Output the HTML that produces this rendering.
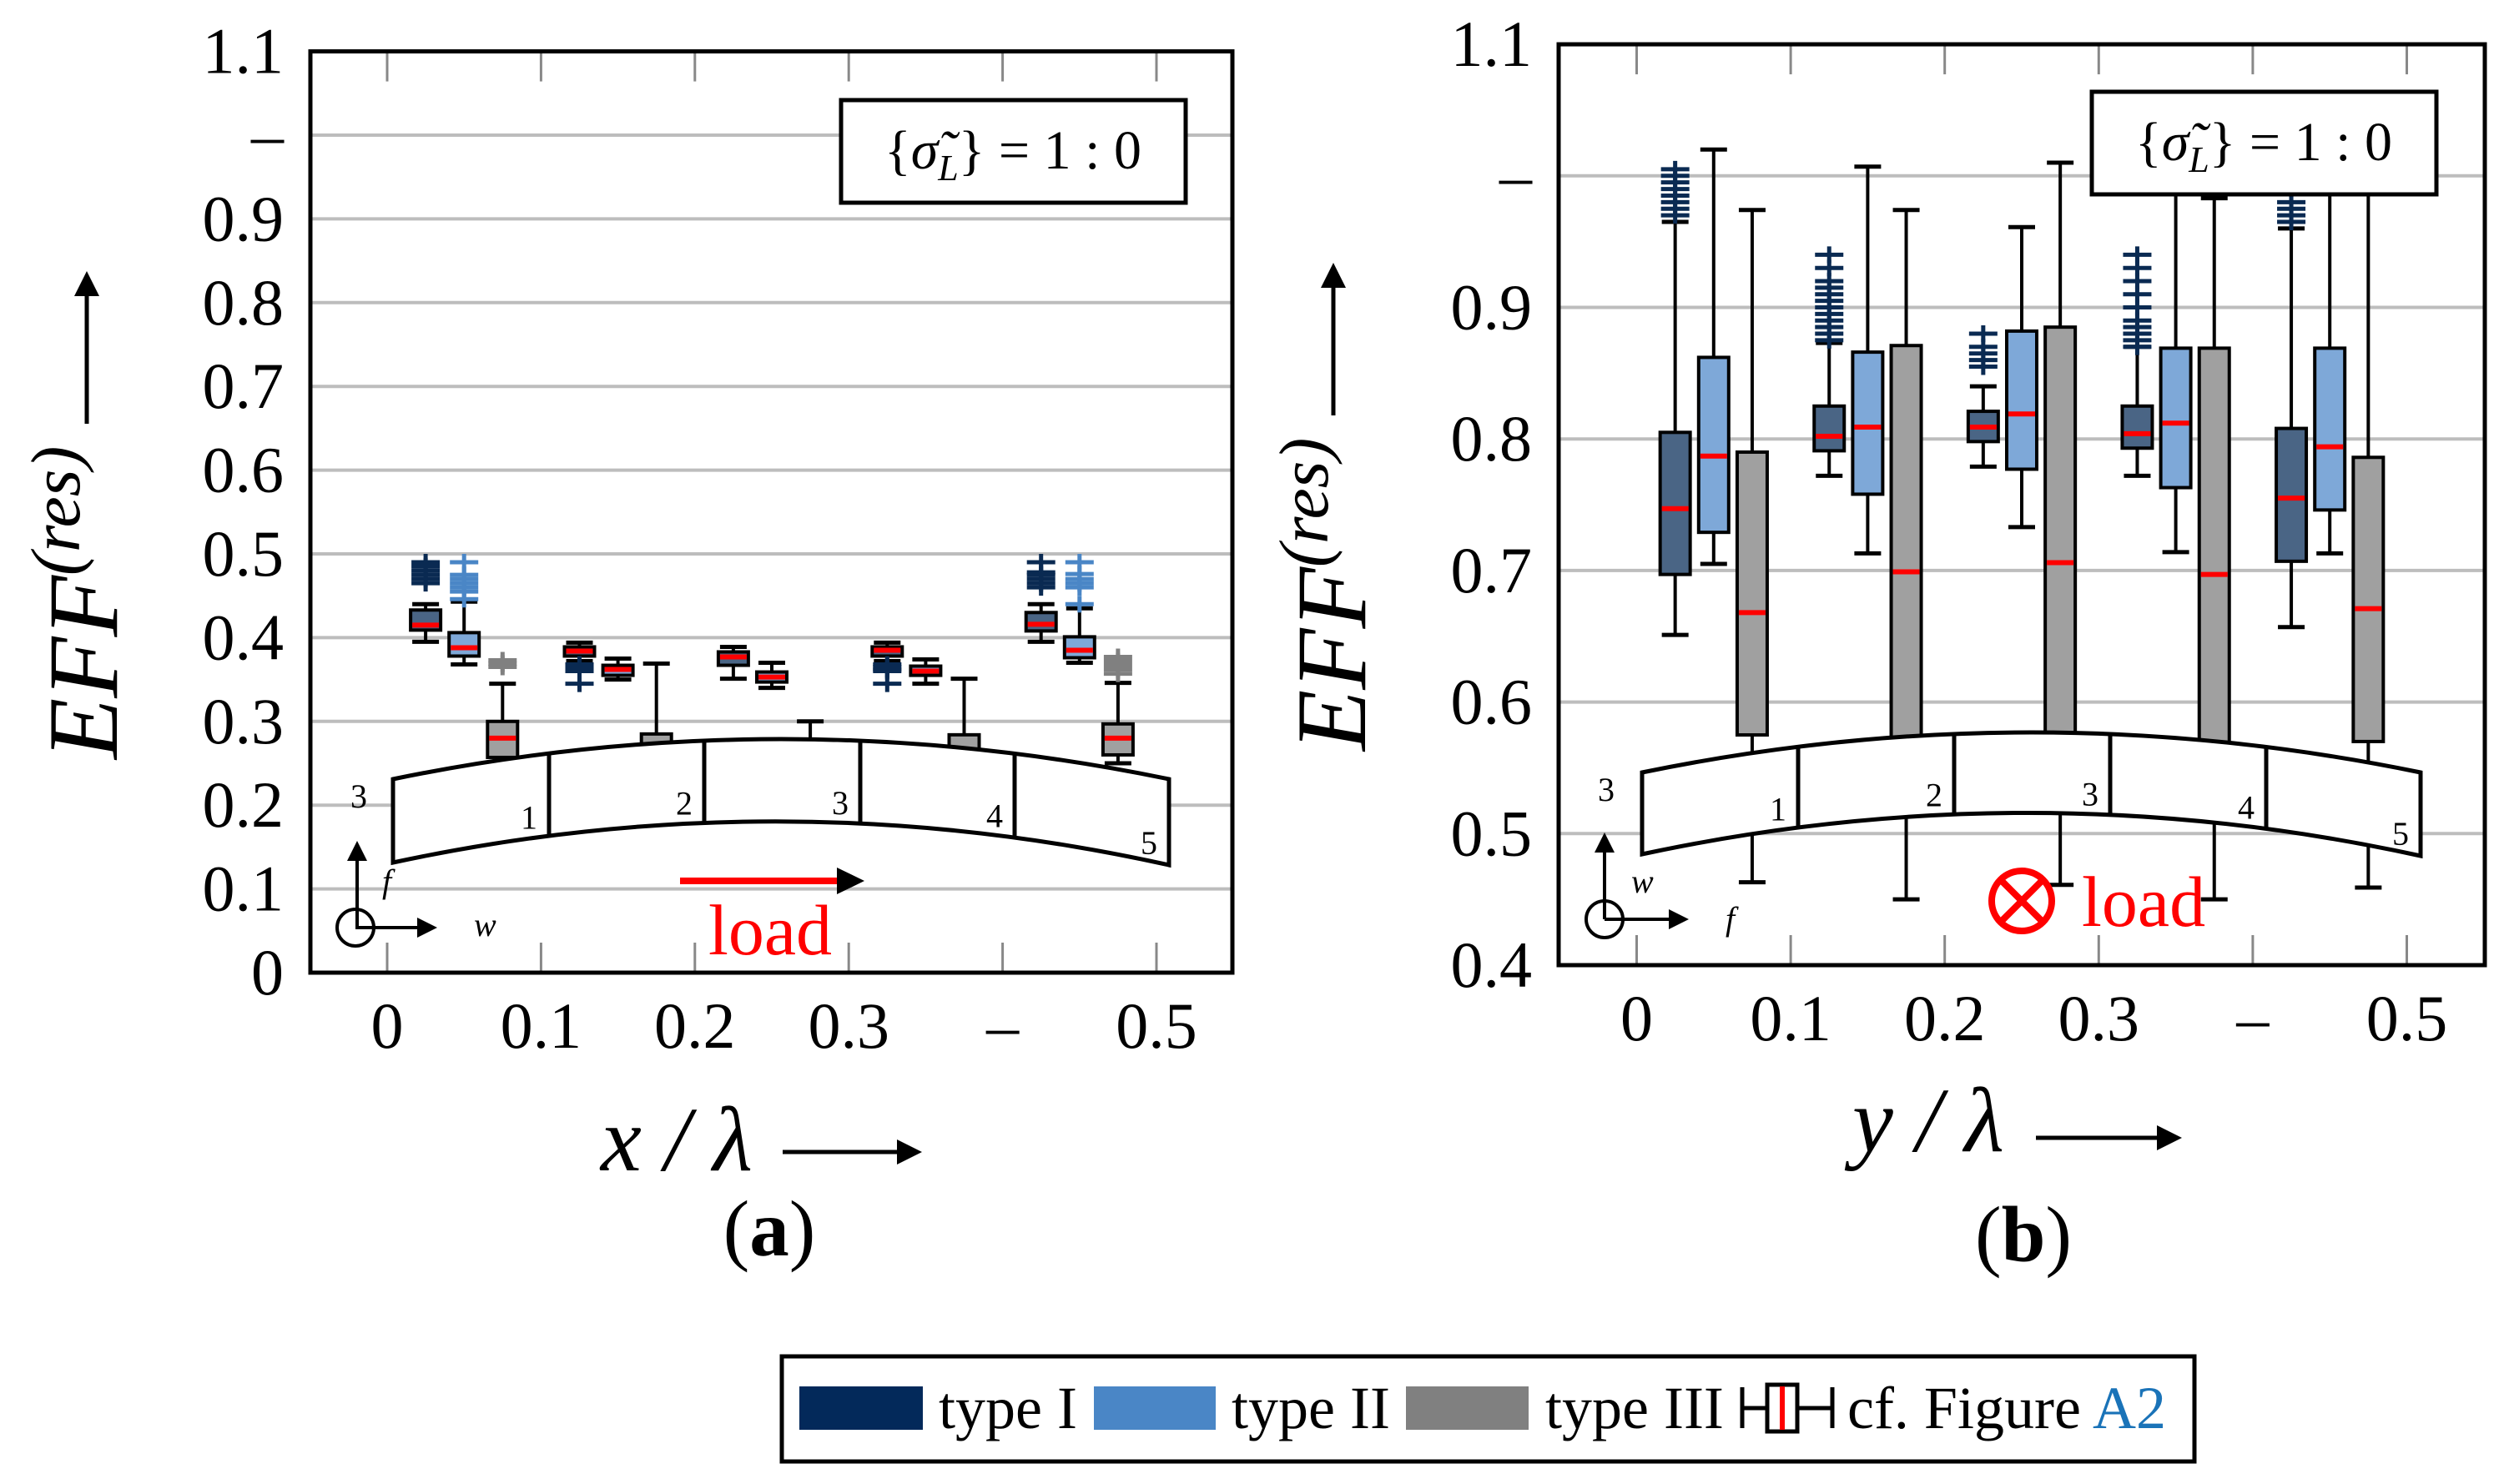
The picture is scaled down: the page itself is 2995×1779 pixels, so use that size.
<!DOCTYPE html>
<html><head><meta charset="utf-8"><style>
html,body{margin:0;padding:0;background:#fff;}
svg{display:block;}
text{font-family:"Liberation Serif",serif;}
</style></head><body>
<svg id="fig" xmlns="http://www.w3.org/2000/svg" width="2995" height="1779" viewBox="0 0 2995 1779">
<g id="pa"></g>
<g id="pb"></g>
<g id="legend">
<rect x="937" y="1626" width="1693" height="126" fill="#fff" stroke="#000" stroke-width="5"/>
<rect x="958" y="1662" width="148" height="52" fill="#03295a"/>
<text x="1125" y="1712" font-size="72">type I</text>
<rect x="1311" y="1662" width="146" height="52" fill="#4a86c6"/>
<text x="1476" y="1712" font-size="72">type II</text>
<rect x="1685" y="1662" width="147" height="52" fill="#808080"/>
<text x="1852" y="1712" font-size="72">type III</text>
<g stroke="#000" stroke-width="5" fill="none">
<line x1="2088" y1="1663" x2="2088" y2="1712"/><line x1="2088" y1="1688" x2="2118" y2="1688"/>
<rect x="2118" y="1660" width="36" height="56" fill="#fff"/>
<line x1="2136" y1="1662" x2="2136" y2="1714" stroke="#f00" stroke-width="6"/>
<line x1="2154" y1="1688" x2="2196" y2="1688"/><line x1="2196" y1="1663" x2="2196" y2="1712"/>
</g>
<text x="2214" y="1712" font-size="72">cf. Figure <tspan fill="#1a73b8">A2</tspan></text>
</g>
</svg>
<script>
// Panel (a) data: [whiskerLo, q1, median, q3, whiskerHi] per box
const groupCenters = [0.05, 0.15, 0.25, 0.35, 0.45];
const typeOffsets = [-0.025, 0, 0.025];
const aTypeI = [[0.395,0.409,0.415,0.433,0.44],[0.372,0.378,0.384,0.389,0.394],[0.351,0.367,0.377,0.383,0.389],[0.372,0.378,0.385,0.389,0.394],[0.395,0.408,0.416,0.430,0.44]];
const aTypeII = [[0.368,0.378,0.388,0.406,0.443],[0.35,0.355,0.362,0.367,0.375],[0.34,0.347,0.353,0.359,0.37],[0.345,0.355,0.36,0.366,0.374],[0.37,0.376,0.385,0.401,0.435]];
const aTypeIII = [[0.25,0.257,0.28,0.300,0.345],[0.25,0.26,0.265,0.285,0.369],[0.25,0.255,0.262,0.27,0.30],[0.25,0.26,0.265,0.284,0.351],[0.25,0.26,0.28,0.297,0.346]];
const aOutI = [[0.465,0.47,0.475,0.48,0.485,0.49],[0.36,0.362,0.365,0.368,0.345],[],[0.36,0.362,0.365,0.368,0.345],[0.46,0.465,0.47,0.475,0.478,0.49]];
const aOutII = [[0.446,0.455,0.46,0.465,0.47,0.475,0.49],[],[],[],[0.44,0.46,0.465,0.47,0.476,0.49]];
const aOutIII = [[0.365,0.369,0.373],[],[],[],[0.357,0.362,0.367,0.372,0.377]];
// Panel (b) data
const bTypeI = [[0.651,0.697,0.747,0.805,0.965],[0.772,0.791,0.802,0.825,0.873],[0.779,0.798,0.809,0.821,0.84],[0.772,0.793,0.804,0.825,0.87],[0.657,0.707,0.755,0.808,0.96]];
const bTypeII = [[0.705,0.729,0.787,0.862,1.02],[0.713,0.758,0.809,0.866,1.007],[0.733,0.777,0.819,0.882,0.961],[0.714,0.763,0.812,0.869,1.01],[0.713,0.746,0.794,0.869,1.0]];
const bTypeIII = [[0.463,0.575,0.668,0.79,0.974],[0.45,0.57,0.699,0.871,0.974],[0.461,0.575,0.706,0.885,1.01],[0.45,0.567,0.697,0.869,0.983],[0.459,0.57,0.671,0.786,0.99]];
const bOutI = [[0.97,0.975,0.98,0.985,0.99,0.995,1.0,1.005],[0.875,0.88,0.885,0.89,0.895,0.9,0.905,0.91,0.915,0.92,0.93,0.94],[0.855,0.86,0.865,0.87,0.88],[0.87,0.875,0.88,0.885,0.89,0.9,0.91,0.92,0.93,0.94],[0.965,0.97,0.975,0.98,0.99]];
const bOutII = [[],[],[],[],[]];
const bOutIII = [[],[],[],[],[]];
const xTickVals = [0,0.1,0.2,0.3,0.4,0.5];
const xTickLabels = ["0","0.1","0.2","0.3","\u2013","0.5"];
const aYTicks = [0,0.1,0.2,0.3,0.4,0.5,0.6,0.7,0.8,0.9,1.0,1.1];
const aYLabels = ["0","0.1","0.2","0.3","0.4","0.5","0.6","0.7","0.8","0.9","\u2013","1.1"];
const bYTicks = [0.4,0.5,0.6,0.7,0.8,0.9,1.0,1.1];
const bYLabels = ["0.4","0.5","0.6","0.7","0.8","0.9","\u2013","1.1"];

const NS="http://www.w3.org/2000/svg";
function mk(parent,tag,attrs){const e=document.createElementNS(NS,tag);for(const k in attrs)e.setAttribute(k,attrs[k]);parent.appendChild(e);return e;}

const fills=["#4a6585","#7ea8d8","#a0a0a0"];
const outColors=["#0a2a52","#4a86c6","#808080"];

function panel(g,cfg){
  const X=v=>cfg.x0+v*cfg.xs, Y=v=>cfg.yb-(v-cfg.ymin)*cfg.ys;
  const L=cfg.L,R=cfg.R,T=Y(cfg.ymax),B=Y(cfg.ymin);
  cfg.yTicks.forEach((v,i)=>{
    const gl=mk(g,'line',{x1:L,x2:R,y1:Y(v),y2:Y(v),stroke:'#bdbdbd','stroke-width':4});
    
    
    const t=mk(g,'text',{x:cfg.labX,y:Y(v)+26,'font-size':78,'text-anchor':'end'});
    t.textContent=cfg.yLabels[i];
    
    
  });
  xTickVals.forEach((v,i)=>{
    [[T,T+36],[B-36,B]].forEach(([a,b])=>{
      const tk=mk(g,'line',{x1:X(v),x2:X(v),y1:a,y2:b,stroke:'#888','stroke-width':3});
      
      
    });
    const t=mk(g,'text',{x:X(v),y:B+90,'font-size':78,'text-anchor':'middle'});
    t.textContent=xTickLabels[i];
    
    
  });
  const sets=[cfg.I,cfg.II,cfg.III], outs=[cfg.oI,cfg.oII,cfg.oIII];
  groupCenters.forEach((c,gi)=>{
    for(let ti=0;ti<3;ti++){
      const d=sets[ti][gi], cx=X(c+typeOffsets[ti]), w=36;
      const bx=mk(g,'g',{});
      
      
      mk(bx,'line',{x1:cx,x2:cx,y1:Y(d[0]),y2:Y(d[4]),stroke:'#000','stroke-width':4});
      mk(bx,'line',{x1:cx-16,x2:cx+16,y1:Y(d[0]),y2:Y(d[0]),stroke:'#000','stroke-width':5});
      mk(bx,'line',{x1:cx-16,x2:cx+16,y1:Y(d[4]),y2:Y(d[4]),stroke:'#000','stroke-width':5});
      mk(bx,'rect',{x:cx-w/2,y:Y(d[3]),width:w,height:Y(d[1])-Y(d[3]),fill:fills[ti],stroke:'#000','stroke-width':4});
      mk(bx,'line',{x1:cx-w/2+2,x2:cx+w/2-2,y1:Y(d[2]),y2:Y(d[2]),stroke:'#f00','stroke-width':6});
      outs[ti][gi].forEach(o=>{
        const p=mk(g,'path',{d:`M${cx-17},${Y(o)}H${cx+17}M${cx},${Y(o)-10}V${Y(o)+10}`,stroke:outColors[ti],'stroke-width':5,fill:'none'});
        
        
      });
    }
  });
  // beam
  const bm=cfg.beam;
  const beam=mk(g,'path',{d:`M${bm.l},${bm.tl}Q${(bm.l+bm.r)/2},${2*bm.tm-bm.tl} ${bm.r},${bm.tr}L${bm.r},${bm.br}Q${(bm.l+bm.r)/2},${2*bm.bm-bm.bl} ${bm.l},${bm.bl}Z`,fill:'#fff',stroke:'#000','stroke-width':5});
  
  
  const segs=[bm.l].concat(bm.div).concat([bm.r]);
  function qy(x,a,m,b){const t=(x-bm.l)/(bm.r-bm.l);const cp=2*m-(a+b)/2;return (1-t)*(1-t)*a+2*t*(1-t)*cp+t*t*b;}
  bm.div.forEach(x=>{
    const l=mk(g,'line',{x1:x,x2:x,y1:qy(x,bm.tl,bm.tm,bm.tr),y2:qy(x,bm.bl,bm.bm,bm.br),stroke:'#000','stroke-width':5});
    
    
  });
  for(let i=0;i<5;i++){
    const x=segs[i+1]-14;
    const t=mk(g,'text',{x:x,y:qy(x,bm.bl,bm.bm,bm.br)-10,'font-size':40,'text-anchor':'end'});
    t.textContent=String(i+1);
    
    
  }
  // frame
  const fr=mk(g,'rect',{x:L,y:T,width:R-L,height:B-T,fill:'none',stroke:'#000','stroke-width':5});
  
  
  // sigma legend
  const lg=mk(g,'g',{});
  
  
  mk(lg,'rect',{x:cfg.lg[0],y:cfg.lg[1],width:413,height:123,fill:'#fff',stroke:'#000','stroke-width':5});
  const lt=mk(lg,'text',{x:cfg.lg[0]+206,y:cfg.lg[1]+82,'font-size':66,'text-anchor':'middle'});
  lt.innerHTML='{<tspan font-style="italic">σ̃</tspan><tspan font-style="italic" font-size="44" dy="14">L</tspan><tspan dy="-14">} = 1 : 0</tspan>';
}

const pa=document.getElementById('pa'), pb=document.getElementById('pb');
panel(pa,{x0:464,xs:1844,yb:1166,ymin:0,ymax:1.1,ys:1004,L:372,R:1477,labX:340,
  yTicks:aYTicks,yLabels:aYLabels,I:aTypeI,II:aTypeII,III:aTypeIII,oI:aOutI,oII:aOutII,oIII:aOutIII,
  beam:{l:471,r:1401,tl:934,tm:886,tr:934,bl:1034,bm:984,br:1037,div:[658,844,1031,1216]},lg:[1008,120]});
panel(pb,{x0:1961.5,xs:1846,yb:1157,ymin:0.4,ymax:1.1,ys:1577,L:1868,R:2978,labX:1836,
  yTicks:bYTicks,yLabels:bYLabels,I:bTypeI,II:bTypeII,III:bTypeIII,oI:bOutI,oII:bOutII,oIII:bOutIII,
  beam:{l:1968,r:2901,tl:926,tm:878,tr:926,bl:1024,bm:974,br:1026,div:[2155,2342,2529,2716]},lg:[2507,110]});
</script>
<svg style="position:absolute;left:0;top:0" width="2995" height="1779">
<defs><marker id="ah" markerWidth="6" markerHeight="6" refX="5" refY="3" orient="auto" markerUnits="strokeWidth"><path d="M0,0L6,3L0,6Z" fill="#000"/></marker></defs>
<!-- panel a annotations -->
<g>
<text transform="translate(140,910) rotate(-90)" font-size="120" font-style="italic">EFF<tspan font-size="84" dy="-45">(res)</tspan></text>
<line x1="104" y1="508" x2="104" y2="330" stroke="#000" stroke-width="5" marker-end="url(#ah)"/>
</g>
<g>
<text x="720" y="1403" font-size="110" font-style="italic">x / λ</text>
<line x1="938" y1="1381" x2="1100" y2="1381" stroke="#000" stroke-width="5" marker-end="url(#ah)"/>
</g>
<text x="922" y="1505" font-size="95" text-anchor="middle">(<tspan font-weight="bold">a</tspan>)</text>
<g fill="none" stroke="#000" stroke-width="4">
<circle cx="426" cy="1112" r="22"/>
<line x1="428" y1="1112" x2="428" y2="1012" marker-end="url(#ah)"/>
<line x1="426" y1="1112" x2="520" y2="1112" marker-end="url(#ah)"/>
</g>
<text x="420" y="968" font-size="40">3</text>
<text x="458" y="1070" font-size="40" font-style="italic">f</text>
<text x="568" y="1122" font-size="40" font-style="italic">w</text>
<line x1="815" y1="1056" x2="1010" y2="1056" stroke="#f00" stroke-width="8"/>
<path d="M1003,1040L1036,1056L1003,1072Z" fill="#000"/>
<text x="923" y="1144" font-size="86" fill="#f00" text-anchor="middle">load</text>
<!-- panel b annotations -->
<g>
<text transform="translate(1636,900) rotate(-90)" font-size="120" font-style="italic">EFF<tspan font-size="84" dy="-45">(res)</tspan></text>
<line x1="1598" y1="498" x2="1598" y2="320" stroke="#000" stroke-width="5" marker-end="url(#ah)"/>
</g>
<g>
<text x="2220" y="1380" font-size="110" font-style="italic">y / λ</text>
<line x1="2440" y1="1364" x2="2610" y2="1364" stroke="#000" stroke-width="5" marker-end="url(#ah)"/>
</g>
<text x="2425" y="1512" font-size="95" text-anchor="middle">(<tspan font-weight="bold">b</tspan>)</text>
<g fill="none" stroke="#000" stroke-width="4">
<circle cx="1923" cy="1102" r="22"/>
<line x1="1923" y1="1102" x2="1923" y2="1002" marker-end="url(#ah)"/>
<line x1="1923" y1="1102" x2="2020" y2="1102" marker-end="url(#ah)"/>
</g>
<text x="1915" y="960" font-size="40">3</text>
<text x="1955" y="1070" font-size="40" font-style="italic">w</text>
<text x="2068" y="1115" font-size="40" font-style="italic">f</text>
<g stroke="#f00" stroke-width="8" fill="none">
<circle cx="2423" cy="1080" r="36"/>
<line x1="2398" y1="1055" x2="2448" y2="1105"/><line x1="2448" y1="1055" x2="2398" y2="1105"/>
</g>
<text x="2495" y="1110" font-size="86" fill="#f00">load</text>
</svg>
</body></html>
